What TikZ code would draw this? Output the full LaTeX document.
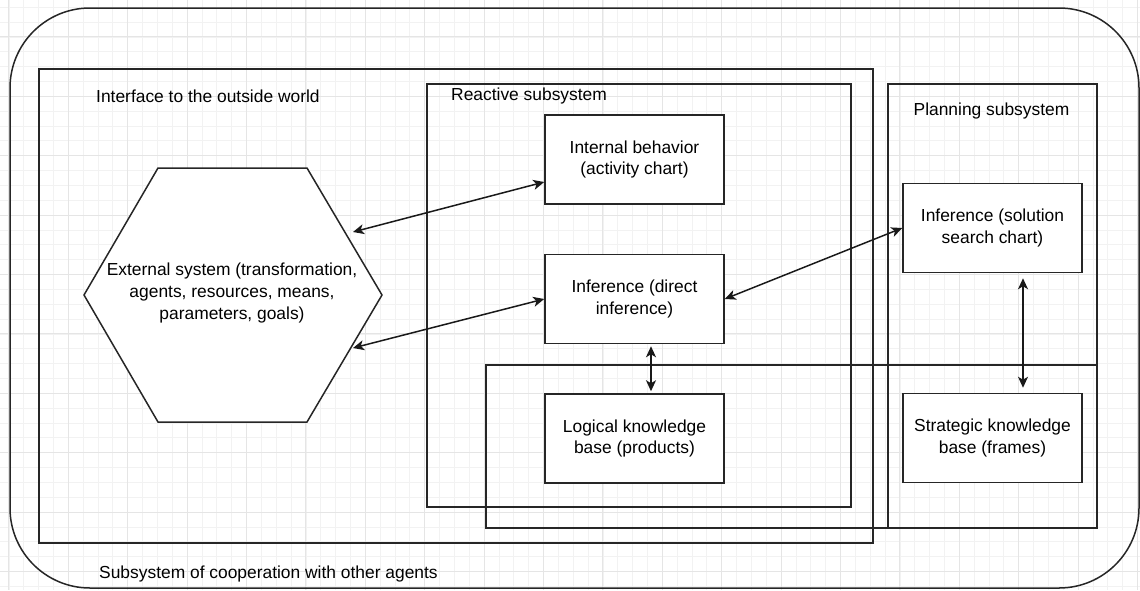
\documentclass[tikz,border=0pt]{standalone}
\usepackage{fontspec}
\setmainfont{Liberation Sans}
\usetikzlibrary{arrows.meta}
\newcommand\boxfont{\fontsize{17.4pt}{21.7pt}\selectfont}
\tikzset{
  gridminor/.style={draw=black!5, line width=0.8pt},
  gridmajor/.style={draw=black!10, line width=0.9pt},
  frame/.style={draw=black!85, line width=1.5pt},
  box/.style={frame, fill=white, minimum width=179pt, minimum height=89pt, inner sep=0pt, align=center, font=\boxfont},
  lbl/.style={inner sep=0pt, font=\boxfont},
  tipx/.tip={Stealth[length=11pt,width=10pt,inset=3pt]},
  link/.style={draw=black!90, line width=1.5pt, tipx-tipx},
}
\begin{document}
\begin{tikzpicture}[x=1pt,y=-1pt]
\useasboundingbox (0,0) rectangle (1140,590);
% grid
\foreach \i in {-5,...,72} {\draw[gridminor] ({68.3+14.85*\i},0) -- ({68.3+14.85*\i},590);}
\foreach \j in {-31,...,10} {\draw[gridminor] (0,{452.7+14.85*\j}) -- (1140,{452.7+14.85*\j});}
\foreach \i in {-1,...,18} {\draw[gridmajor] ({68.3+59.4*\i},0) -- ({68.3+59.4*\i},590);}
\foreach \j in {-8,...,2} {\draw[gridmajor] (0,{452.7+59.4*\j}) -- (1140,{452.7+59.4*\j});}

% containers
\draw[frame, rounded corners=80pt] (10,8) rectangle (1139,588);
\draw[frame] (39,69) rectangle (873,543);
\draw[frame] (427,84) rectangle (851,507);
\draw[frame] (888,84) rectangle (1097,528);
\draw[frame] (486,365) rectangle (1097,528);

% labels
\node[lbl, anchor=west] (tif) at (96,96) {Interface to the outside world};
\node[lbl, anchor=west] (trs) at (451,96) {Reactive subsystem};
\node[lbl] (tps) at (991.5,111) {Planning subsystem};
\node[lbl, anchor=west] (tco) at (99,574) {Subsystem of cooperation with other agents};

% hexagon
\draw[frame, fill=white] (84,295) -- (158,168) -- (307,168) -- (382,295) -- (307,422) -- (158,422) -- cycle;
\node[lbl, align=center] (hex) at (232,293) {External system (transformation,\\agents, resources, means,\\parameters, goals)};
\coordinate (hexA) at (353,232);
\coordinate (hexB) at (353,348);

% boxes
\node[box] (ib) at (634.5,159.5) {Internal behavior\\(activity chart)};
\node[box] (di) at (634.5,299) {Inference (direct\\inference)};
\node[box] (lkb) at (634.5,438.5) {Logical knowledge\\base (products)};
\node[box] (is) at (992.5,228) {Inference (solution\\search chart)};
\node[box] (skb) at (992.5,438) {Strategic knowledge\\base (frames)};

% connectors
\draw[link] (hexA) -- ([yshift=-22.5pt]ib.west);
\draw[link] (hexB) -- (di.west);
\draw[link] (di.east) -- (is.west);
\draw[link, shorten <=2pt, shorten >=2pt] ([xshift=16.5pt]di.south) -- ([xshift=16.5pt]lkb.north);
\draw[link, shorten <=5pt, shorten >=5pt] ([xshift=30.5pt]is.south) -- ([xshift=30.5pt]skb.north);
\end{tikzpicture}
\end{document}
